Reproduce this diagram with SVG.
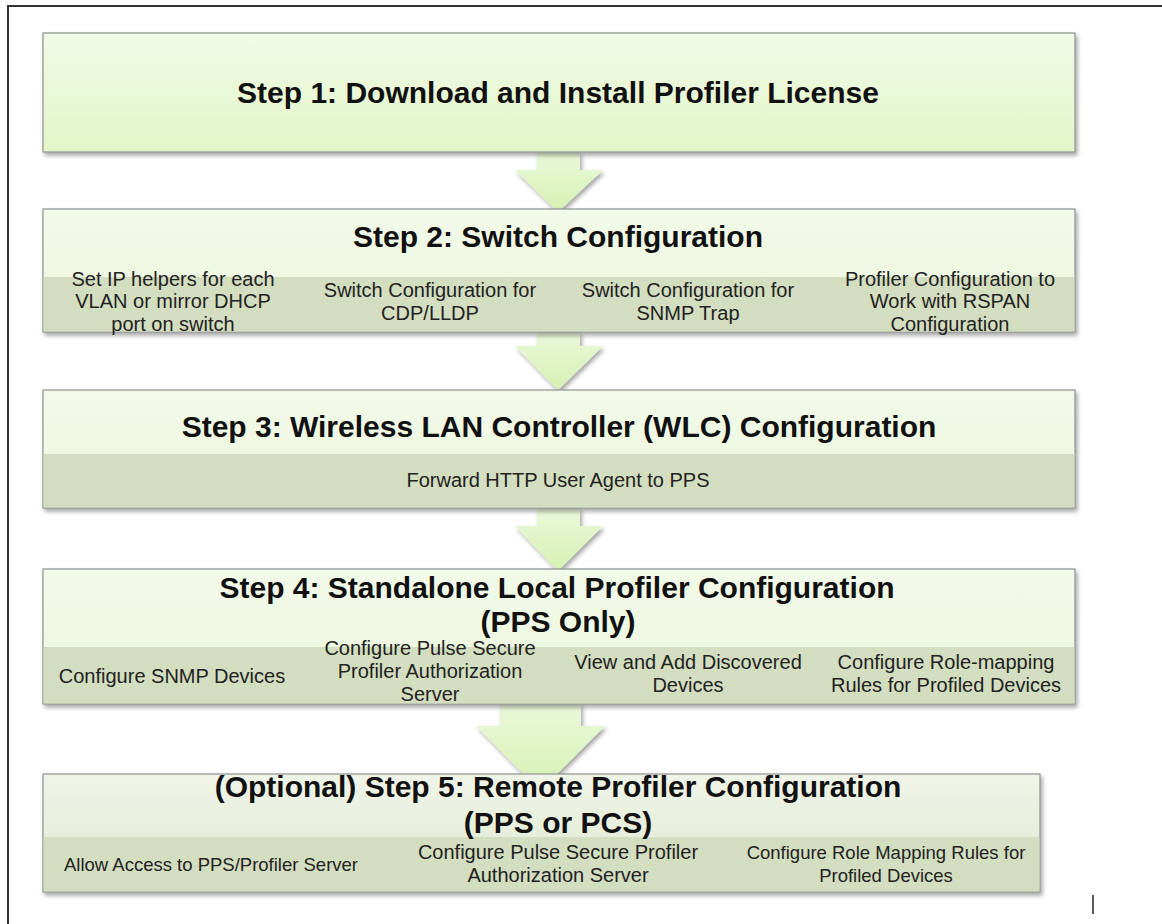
<svg xmlns="http://www.w3.org/2000/svg" width="1162" height="924" viewBox="0 0 1162 924">
<style>
.title{font-family:"Liberation Sans",Arial,sans-serif;font-weight:bold;font-size:30px;fill:#111;text-anchor:middle}
.sub{font-family:"Liberation Sans",Arial,sans-serif;font-size:20px;fill:#222;text-anchor:middle}
.sm{font-size:18.5px}
.box{stroke:#8f8f8f;stroke-width:1.2;filter:url(#sh)}
.band{fill:#d3ddbf}
.arrow{fill:url(#ga);filter:url(#sh)}
</style>
<defs>
<filter id="sh" x="-5%" y="-10%" width="110%" height="130%">
<feDropShadow dx="2" dy="3" stdDeviation="2" flood-color="#000" flood-opacity="0.35"/>
</filter>
<linearGradient id="g1" x1="0" y1="0" x2="0" y2="1">
<stop offset="0" stop-color="#f1fae6"/><stop offset="1" stop-color="#e2f6c8"/>
</linearGradient>
<linearGradient id="g2" x1="0" y1="0" x2="0" y2="1">
<stop offset="0" stop-color="#f2fae9"/><stop offset="1" stop-color="#ebf7dc"/>
</linearGradient>
<linearGradient id="g5" x1="0" y1="0" x2="0" y2="1">
<stop offset="0" stop-color="#eff4e8"/><stop offset="1" stop-color="#dfe9cf"/>
</linearGradient>
<linearGradient id="ga" x1="0" y1="0" x2="0" y2="1">
<stop offset="0" stop-color="#eaf8da"/><stop offset="1" stop-color="#d6f1b2"/>
</linearGradient>
</defs>
<rect width="1162" height="924" fill="#fff"/>
<path d="M8 924 V6 H1162" fill="none" stroke="#333" stroke-width="2"/>
<line x1="1093" y1="895" x2="1093" y2="914" stroke="#222" stroke-width="1.5"/>

<g id="connectors">
<polygon class="arrow" points="537,152 580,152 580,170 603,170 558,212 515,170 537,170"/>
<polygon class="arrow" points="537,332 580,332 580,346 603,346 558,390 515,346 537,346"/>
<polygon class="arrow" points="537,508 580,508 580,526 603,526 558,571 515,526 537,526"/>
<polygon class="arrow" points="500,704 581,704 581,726 605,726 540,791 476,726 500,726"/>
</g>

<g id="step1">
<rect class="box" x="43" y="33" width="1032" height="119" fill="url(#g1)"/>
<text class="title" x="558" y="103">Step 1: Download and Install Profiler License</text>
</g>

<g id="step2">
<rect class="box" x="43" y="209" width="1032" height="123" fill="url(#g2)"/>
<rect class="band" x="43.6" y="277" width="1030.8" height="54.4"/>
<text class="title" x="558" y="247">Step 2: Switch Configuration</text>
<text class="sub" x="173" y="286">Set IP helpers for each</text>
<text class="sub" x="173" y="308">VLAN or mirror DHCP</text>
<text class="sub" x="173" y="331">port on switch</text>
<text class="sub" x="430" y="297">Switch Configuration for</text>
<text class="sub" x="430" y="320">CDP/LLDP</text>
<text class="sub" x="688" y="297">Switch Configuration for</text>
<text class="sub" x="688" y="320">SNMP Trap</text>
<text class="sub" x="950" y="286">Profiler Configuration to</text>
<text class="sub" x="950" y="308">Work with RSPAN</text>
<text class="sub" x="950" y="331">Configuration</text>
</g>

<g id="step3">
<rect class="box" x="43" y="390" width="1032" height="118" fill="url(#g2)"/>
<rect class="band" x="43.6" y="454" width="1030.8" height="53.4"/>
<text class="title" x="559" y="437">Step 3: Wireless LAN Controller (WLC) Configuration</text>
<text class="sub" x="558" y="487">Forward HTTP User Agent to PPS</text>
</g>

<g id="step4">
<rect class="box" x="43" y="569" width="1032" height="135" fill="url(#g2)"/>
<rect class="band" x="43.6" y="647" width="1030.8" height="56.4"/>
<text class="title" x="557" y="598">Step 4: Standalone Local Profiler Configuration</text>
<text class="title" x="558" y="632">(PPS Only)</text>
<text class="sub" x="172" y="683">Configure SNMP Devices</text>
<text class="sub" x="430" y="655">Configure Pulse Secure</text>
<text class="sub" x="430" y="678">Profiler Authorization</text>
<text class="sub" x="430" y="701">Server</text>
<text class="sub" x="688" y="669">View and Add Discovered</text>
<text class="sub" x="688" y="692">Devices</text>
<text class="sub" x="946" y="669">Configure Role-mapping</text>
<text class="sub" x="946" y="692">Rules for Profiled Devices</text>
</g>

<g id="step5">
<rect class="box" x="43" y="774" width="997" height="118" fill="url(#g5)"/>
<rect class="band" x="43.6" y="837" width="995.8" height="54.4"/>
<text class="title" x="558" y="797">(Optional) Step 5: Remote Profiler Configuration</text>
<text class="title" x="558" y="833">(PPS or PCS)</text>
<text class="sub sm" x="211" y="871">Allow Access to PPS/Profiler Server</text>
<text class="sub" x="558" y="859">Configure Pulse Secure Profiler</text>
<text class="sub" x="558" y="882">Authorization Server</text>
<text class="sub sm" x="886" y="859">Configure Role Mapping Rules for</text>
<text class="sub sm" x="886" y="882">Profiled Devices</text>
</g>
</svg>
